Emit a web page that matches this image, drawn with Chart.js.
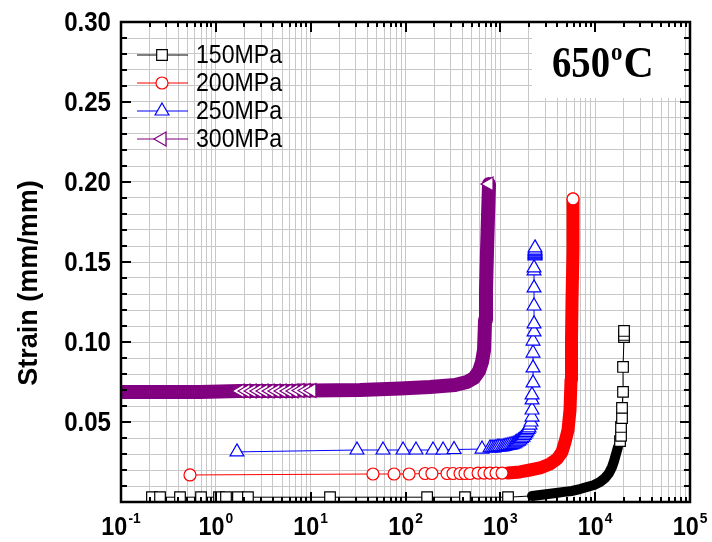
<!DOCTYPE html>
<html>
<head>
<meta charset="utf-8">
<script src="https://cdn.jsdelivr.net/npm/chart.js@4.4.0/dist/chart.umd.min.js"></script>
<style>
  html, body { margin: 0; padding: 0; background: #fff; }
  canvas { display: block; }
</style>
</head>
<body>
<canvas id="myChart" width="712" height="542"></canvas>
<script>
'use strict';
// creep curves at 650 C: time (s) against strain (mm/mm)
const labels = ['150MPa', '200MPa', '250MPa', '300MPa'];
const colors = ['#000000', '#ff0000', '#0000ff', '#800080'];

// 150MPa - symbols, then the densely sampled stretch drawn as a band
const t150 = [0.212, 0.258, 0.419, 0.698, 1.08, 1.28, 1.71, 2.18, 16.0, 169, 424, 1205,
  18290, 18740, 18740, 19190, 19190, 19670, 19670, 20150, 20150, 20150];
const e150 = [0.0030, 0.0030, 0.0030, 0.0030, 0.0030, 0.0030, 0.0030, 0.0030, 0.0030, 0.0030, 0.0030, 0.0030,
  0.0381, 0.0413, 0.0469, 0.0525, 0.0588, 0.0688, 0.0844, 0.1031, 0.1044, 0.1069];
const t150band = [2159, 2621, 3183, 3866, 4694, 5700, 6921, 8204, 9725, 11250, 12700, 14000, 15060, 15810, 16590, 17420];
const e150band = [0.0038, 0.0044, 0.0050, 0.0056, 0.0063, 0.0069, 0.0081, 0.0094, 0.0106, 0.0125, 0.0150, 0.0181, 0.0219, 0.0256, 0.0300, 0.0344];

// 200MPa
const t200 = [0.534, 45.4, 75.7, 109, 161, 190, 274, 317, 376, 424, 479, 582, 673, 778, 901, 1042];
const e200 = [0.0169, 0.0175, 0.0175, 0.0175, 0.0178, 0.0178, 0.0178, 0.0178, 0.0178, 0.0178, 0.0178, 0.0181, 0.0181, 0.0181, 0.0181, 0.0181];
const t200band = [1205, 1612, 2056, 2621, 3341, 3960, 4471, 4810, 5172, 5429, 5563, 5630, 5700, 5840, 5840];
const e200band = [0.0181, 0.0188, 0.0200, 0.0213, 0.0238, 0.0269, 0.0313, 0.0375, 0.0450, 0.0575, 0.0763, 0.1013, 0.1263, 0.1575, 0.1894];

// 250MPa - every point carries a symbol
const t250 = [1.67, 30.8, 57.9, 94.2, 129, 195, 249, 325, 641,
  778, 818, 858, 900, 945, 990, 1042, 1095, 1148, 1205, 1265, 1330, 1394, 1445, 1499, 1555, 1612, 1670,
  1735, 1780, 1821, 1865, 1911, 1960, 2006, 2056, 2106,
  2159, 2159, 2159, 2159, 2212, 2212, 2212, 2212, 2266, 2266, 2266, 2266, 2266, 2266,
  2322, 2322, 2322, 2322, 2322, 2322, 2322, 2322];
const e250 = [0.0313, 0.0325, 0.0325, 0.0325, 0.0325, 0.0325, 0.0325, 0.0328, 0.0331,
  0.0338, 0.0338, 0.0338, 0.0341, 0.0344, 0.0344, 0.0344, 0.0347, 0.0350, 0.0353, 0.0356, 0.0359, 0.0363, 0.0369, 0.0375, 0.0381, 0.0388, 0.0397,
  0.0406, 0.0416, 0.0425, 0.0434, 0.0444, 0.0453, 0.0463, 0.0481, 0.0500,
  0.0531, 0.0575, 0.0638, 0.0669, 0.0744, 0.0838, 0.0931, 0.1006, 0.1063, 0.1113, 0.1225, 0.1338, 0.1444, 0.1463,
  0.1538, 0.1544, 0.1550, 0.1556, 0.1563, 0.1569, 0.1575, 0.1588];
const t250band = [];
const e250band = [];

// 300MPa
const t300 = [1.80, 2.08, 2.41, 2.78, 3.22, 3.73, 4.31, 4.99, 5.77, 6.67, 7.72, 8.93, 10.3];
const e300 = [0.0694, 0.0694, 0.0694, 0.0694, 0.0694, 0.0694, 0.0694, 0.0694, 0.0694, 0.0694, 0.0697, 0.0697, 0.0697];
const t300band = [0.1, 0.681, 2.29, 7.72, 33.1, 87.5, 181, 333, 445, 528, 596, 641, 673, 690, 706, 724, 742, 760];
const e300band = [0.0688, 0.0688, 0.0694, 0.0697, 0.0700, 0.0709, 0.0719, 0.0731, 0.0750, 0.0775, 0.0819, 0.0875, 0.0950, 0.1138, 0.1325, 0.1575, 0.1794, 0.1988];

// axis ticks
const xExponents = ['-1', '0', '1', '2', '3', '4', '5'];
const yTickValues = [0.05, 0.10, 0.15, 0.20, 0.25, 0.30];
const yTickLabels = ['0.05', '0.10', '0.15', '0.20', '0.25', '0.30'];

const FONT = '"Liberation Sans", Arial, Helvetica, sans-serif';
const SERIF = '"Liberation Serif", "Times New Roman", serif';

function merge(t, e, tb, eb) {
  const pts = t.map((x, i) => ({ x: x, y: e[i], mark: true }))
    .concat(tb.map((x, i) => ({ x: x, y: eb[i], mark: false })));
  pts.sort((a, b) => a.x - b.x);
  return pts;
}

function curve(i, shape, size, rotation, bandWidth, t, e, tb, eb) {
  const pts = merge(t, e, tb, eb);
  const lo = tb.length ? tb[0] : Infinity;
  const hi = tb.length ? tb[tb.length - 1] : -Infinity;
  const inBand = k => pts[k] && pts[k].x >= lo && pts[k].x <= hi;
  return {
    label: labels[i],
    data: pts,
    borderColor: colors[i],
    borderWidth: 1,
    borderCapStyle: 'round',
    borderJoinStyle: 'round',
    tension: 0,
    clip: 0,
    pointStyle: shape,
    pointRotation: rotation,
    pointBackgroundColor: '#ffffff',
    pointBorderColor: colors[i],
    pointBorderWidth: 1.2,
    pointRadius: c => (c.raw && (c.raw.mark || c.dataIndex === pts.length - 1)) ? size : 0,
    segment: {
      borderWidth: c => (inBand(c.p0DataIndex) && inBand(c.p1DataIndex)) ? bandWidth : undefined
    }
  };
}

const datasets = [
  curve(0, 'rect', 7.5, 0, 10, t150, e150, t150band, e150band),
  curve(1, 'circle', 6, 0, 13, t200, e200, t200band, e200band),
  curve(2, 'triangle', 8, 0, 1, t250, e250, t250band, e250band),
  curve(3, 'triangle', 8, -90, 14, t300, e300, t300band, e300band)
];

// legend symbols, same shapes as the plotted points
function symbol(ctx, shape, x, y, r, rot) {
  ctx.beginPath();
  if (shape === 'rect') {
    const s = r * Math.SQRT1_2;
    ctx.rect(x - s, y - s, 2 * s, 2 * s);
  } else if (shape === 'circle') {
    ctx.arc(x, y, r, 0, Math.PI * 2);
  } else {
    let a = rot * Math.PI / 180;
    for (let k = 0; k < 3; k++) {
      const px = x + Math.sin(a) * r;
      const py = y - Math.cos(a) * r;
      if (k === 0) ctx.moveTo(px, py); else ctx.lineTo(px, py);
      a += 2 * Math.PI / 3;
    }
    ctx.closePath();
  }
  ctx.fill();
  ctx.stroke();
}

function squeezed(ctx, text, x, y, sx) {
  ctx.save();
  ctx.translate(x, y);
  ctx.scale(sx, 1);
  ctx.fillText(text, 0, 0);
  ctx.restore();
}

const decorations = {
  id: 'decorations',
  beforeDatasetsDraw(chart) {
    const { ctx, chartArea: a } = chart;
    ctx.save();
    ctx.fillStyle = '#fff';
    ctx.fillRect(a.right - 158, a.top, 152, 76);
    ctx.restore();
  },
  afterDraw(chart) {
    const { ctx, chartArea: a, scales } = chart;
    const x = scales.x, y = scales.y;
    ctx.save();
    ctx.strokeStyle = '#000';
    ctx.fillStyle = '#000';

    // inward tick marks on all four sides
    ctx.lineWidth = 2;
    ctx.beginPath();
    y.ticks.forEach(t => {
      const py = Math.round(y.getPixelForValue(t.value));
      const len = Math.round(t.value * 100) % 5 === 0 ? 10 : 6;
      ctx.moveTo(a.left, py); ctx.lineTo(a.left + len, py);
      ctx.moveTo(a.right, py); ctx.lineTo(a.right - len, py);
    });
    x.ticks.forEach(t => {
      const px = Math.round(x.getPixelForValue(t.value));
      const lg = Math.log10(t.value);
      const len = Math.abs(lg - Math.round(lg)) < 1e-6 ? 10 : 5;
      ctx.moveTo(px, a.bottom); ctx.lineTo(px, a.bottom - len);
      ctx.moveTo(px, a.top); ctx.lineTo(px, a.top + len);
    });
    ctx.stroke();
    ctx.lineWidth = 2.5;
    ctx.strokeRect(a.left, a.top, a.right - a.left, a.bottom - a.top);

    // y tick labels
    ctx.font = 'bold 28px ' + FONT;
    ctx.textAlign = 'right';
    ctx.textBaseline = 'alphabetic';
    yTickValues.forEach((v, i) => {
      squeezed(ctx, yTickLabels[i], a.left - 10, y.getPixelForValue(v) + 8.5, 0.86);
    });

    // x tick labels as powers of ten
    ctx.textAlign = 'left';
    xExponents.forEach(e => {
      const px = x.getPixelForValue(Math.pow(10, Number(e)));
      ctx.font = 'bold 26px ' + FONT;
      const wb = ctx.measureText('10').width * 0.9;
      ctx.font = 'bold 15px ' + FONT;
      const we = ctx.measureText(e).width * 0.92;
      const x0 = px - (wb + we + 1) / 2;
      ctx.font = 'bold 26px ' + FONT;
      squeezed(ctx, '10', x0, a.bottom + 33, 0.9);
      ctx.font = 'bold 15px ' + FONT;
      squeezed(ctx, e, x0 + wb + 1, a.bottom + 21, 0.92);
    });

    // y axis title
    ctx.save();
    ctx.translate(37, 283);
    ctx.rotate(-Math.PI / 2);
    ctx.font = 'bold 27px ' + FONT;
    ctx.textAlign = 'center';
    ctx.fillText('Strain (mm/mm)', 0, 0);
    ctx.restore();

    // legend
    const shapes = ['rect', 'circle', 'triangle', 'triangle'];
    const sizes = [7.5, 6, 8, 8];
    const rots = [0, 0, 0, -90];
    labels.forEach((lab, i) => {
      const ly = a.top + 33 + i * 28;
      ctx.strokeStyle = colors[i];
      ctx.lineWidth = 1;
      ctx.beginPath();
      ctx.moveTo(a.left + 16, ly); ctx.lineTo(a.left + 67, ly);
      ctx.stroke();
      ctx.fillStyle = '#fff';
      ctx.lineWidth = 1.2;
      symbol(ctx, shapes[i], a.left + 41, ly, sizes[i], rots[i]);
      ctx.fillStyle = '#000';
      ctx.font = '25px ' + FONT;
      ctx.textAlign = 'left';
      squeezed(ctx, lab, a.left + 75, ly + 8, 0.925);
    });

    // temperature label
    const bx = a.right - 158;
    ctx.fillStyle = '#000';
    ctx.textAlign = 'left';
    ctx.font = 'bold 44px ' + SERIF;
    const w650 = ctx.measureText('650').width * 0.88;
    squeezed(ctx, '650', bx + 20, a.top + 55, 0.88);
    ctx.font = 'bold 26px ' + SERIF;
    const wo = ctx.measureText('o').width * 0.88;
    squeezed(ctx, 'o', bx + 20 + w650 + 1, a.top + 38, 0.88);
    ctx.font = 'bold 44px ' + SERIF;
    squeezed(ctx, 'C', bx + 20 + w650 + wo + 2, a.top + 55, 0.95);

    ctx.restore();
  }
};

const ctx = document.getElementById('myChart').getContext('2d');
const chart = new Chart(ctx, {
  type: 'line',
  data: { datasets: datasets },
  options: {
    responsive: false,
    animation: false,
    devicePixelRatio: 1,
    events: [],
    layout: { padding: { left: 121, right: 22, top: 22, bottom: 40 } },
    plugins: { legend: { display: false }, tooltip: { enabled: false } },
    scales: {
      x: {
        type: 'logarithmic',
        min: 0.1,
        max: 100000,
        afterBuildTicks(scale) {
          const ticks = [];
          xExponents.forEach((e, i) => {
            const base = Math.pow(10, Number(e));
            ticks.push({ value: base });
            if (i < xExponents.length - 1) {
              for (let m = 2; m <= 9; m++) ticks.push({ value: m * base });
            }
          });
          scale.ticks = ticks;
        },
        ticks: { display: false },
        grid: { color: '#c8c8c8', lineWidth: 1, drawTicks: false },
        border: { display: false }
      },
      y: {
        type: 'linear',
        min: 0,
        max: 0.3,
        ticks: { display: false, stepSize: 0.01 },
        grid: { color: '#c8c8c8', lineWidth: 1, drawTicks: false },
        border: { display: false }
      }
    }
  },
  plugins: [decorations]
});
</script>
</body>
</html>
